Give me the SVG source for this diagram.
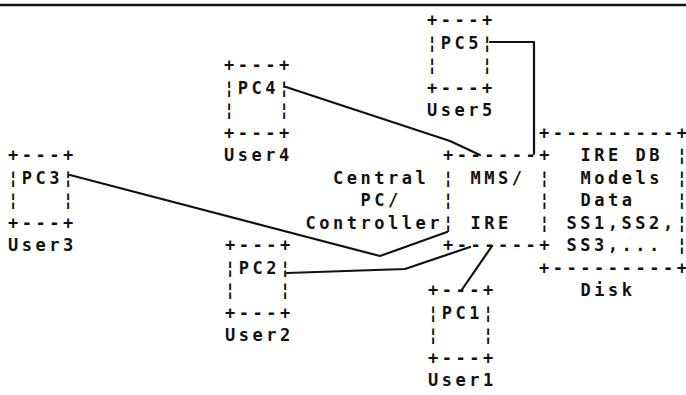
<svg xmlns="http://www.w3.org/2000/svg" width="686" height="395" viewBox="0 0 686 395" xml:space="preserve">
  <style>
    .t { font-family: "DejaVu Sans Mono", "Liberation Mono", monospace; font-size: 17px; font-weight: bold; letter-spacing: 3.52px; fill: #111; white-space: pre; }
    .e { letter-spacing: 0; }
    .ln { fill: none; stroke: #111; stroke-width: 2.2; stroke-linejoin: round; stroke-linecap: round; }
  </style>
  <rect width="686" height="395" fill="#fff"/>
  <!-- header rule -->
  <line x1="0" y1="5" x2="686" y2="5" stroke="#111" stroke-width="2.5"/>

  <!-- connectors -->
  <g id="connectors">
    <polyline class="ln" points="490,42 534,42 534,154"/>
    <polyline class="ln" points="286,87 450,141 480,155"/>
    <polyline class="ln" points="70,175 380,256 447,232"/>
    <polyline class="ln" points="287,273 405,269 470,247"/>
    <polyline class="ln" points="461,291 492,246"/>
  </g>

  <g id="pc5">
    <text class="t" x="426.9" y="26">+---+</text>
    <text class="t" x="426.9" y="48.5">¦PC5¦</text>
    <text class="t" x="426.9" y="71">¦   ¦</text>
    <text class="t" x="426.9" y="93.5">+---+</text>
    <text class="t" x="426.9" y="116">User5</text>
  </g>

  <g id="pc4">
    <text class="t" x="223.9" y="71">+---+</text>
    <text class="t" x="223.9" y="93.5">¦PC4¦</text>
    <text class="t" x="223.9" y="116">¦   ¦</text>
    <text class="t" x="223.9" y="138.5">+---+</text>
    <text class="t" x="223.9" y="161">User4</text>
  </g>

  <g id="pc3">
    <text class="t" x="7.9" y="161">+---+</text>
    <text class="t" x="7.9" y="183.5">¦PC3¦</text>
    <text class="t" x="7.9" y="206">¦   ¦</text>
    <text class="t" x="7.9" y="228.5">+---+</text>
    <text class="t" x="7.9" y="251">User3</text>
  </g>

  <g id="pc2">
    <text class="t" x="224.9" y="251">+---+</text>
    <text class="t" x="224.9" y="273.5">¦PC2¦</text>
    <text class="t" x="224.9" y="296">¦   ¦</text>
    <text class="t" x="224.9" y="318.5">+---+</text>
    <text class="t" x="224.9" y="341">User2</text>
  </g>

  <g id="pc1">
    <text class="t" x="427.9" y="296">+---+</text>
    <text class="t" x="427.9" y="318.5">¦PC1¦</text>
    <text class="t" x="427.9" y="341">¦   ¦</text>
    <text class="t" x="427.9" y="363.5">+---+</text>
    <text class="t" x="427.9" y="386">User1</text>
  </g>

  <g id="central">
    <text class="t" x="332.9" y="183.5">Central</text>
    <text class="t" x="360.4" y="206">PC/</text>
    <text class="t" x="305.4" y="228.5">Controller</text>
  </g>

  <g id="mms">
    <text class="t" x="442.9" y="161">+------+</text>
    <text class="t" x="442.9" y="183.5">¦ MMS/ ¦</text>
    <text class="t" x="442.9" y="206">¦      ¦</text>
    <text class="t" x="442.9" y="228.5">¦ IRE  ¦</text>
    <text class="t" x="442.9" y="251">+------+</text>
  </g>

  <g id="disk">
    <text class="t" x="539.1" y="138.5">+---------<tspan class="e">+</tspan></text>
    <text class="t" x="580.4" y="161">IRE DB <tspan class="e">¦</tspan></text>
    <text class="t" x="580.4" y="183.5">Models <tspan class="e">¦</tspan></text>
    <text class="t" x="580.4" y="206">Data   <tspan class="e">¦</tspan></text>
    <text class="t" x="566.6" y="228.5">SS1,SS2,<tspan class="e">¦</tspan></text>
    <text class="t" x="566.6" y="251">SS3,... <tspan class="e">¦</tspan></text>
    <text class="t" x="539.1" y="273.5">+---------<tspan class="e">+</tspan></text>
    <text class="t" x="580.4" y="296">Disk</text>
  </g>
</svg>
